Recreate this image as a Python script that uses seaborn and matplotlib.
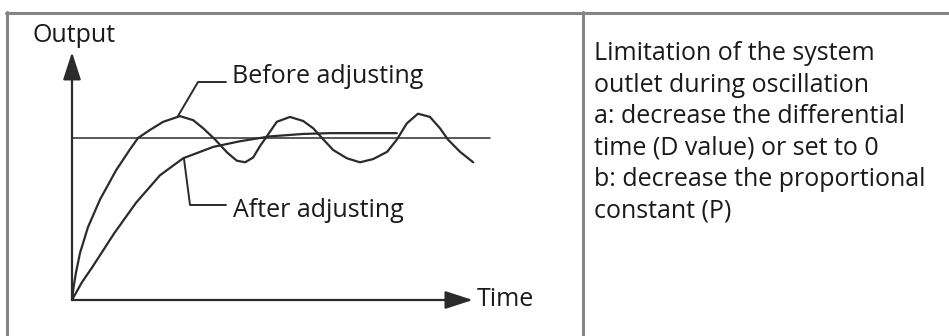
import matplotlib
matplotlib.use("Agg")
import matplotlib.pyplot as plt
import seaborn as sns
import pandas as pd

# step response (time axis 0..10, setpoint = 1)
before_t = [0, 0.04, 0.1, 0.2, 0.4, 0.7, 1.1, 1.45, 1.65, 1.95, 2.28, 2.7, 3.03, 3.28, 3.58,
            3.88, 4.12, 4.33, 4.53, 4.7, 4.87, 5.12, 5.45, 5.78, 6.03, 6.25, 6.53, 6.87,
            7.2, 7.53, 7.88, 8.12, 8.37, 8.65, 8.95, 9.2, 9.4, 9.7, 10.03]
before_out = [0, 0.08, 0.17, 0.29, 0.45, 0.62, 0.8, 0.93, 1.0, 1.05, 1.1, 1.135, 1.11, 1.06, 0.99,
              0.91, 0.86, 0.85, 0.88, 0.95, 1.01, 1.1, 1.13, 1.105, 1.06, 1.0, 0.926, 0.875,
              0.85, 0.87, 0.915, 0.99, 1.09, 1.15, 1.13, 1.06, 0.99, 0.915, 0.85]
after_t = [0, 0.25, 0.5, 1.05, 1.6, 2.2, 2.78, 3.53, 4.2, 4.95, 5.78, 6.45, 8.12]
after_out = [0, 0.11, 0.2, 0.41, 0.6, 0.77, 0.875, 0.945, 0.98, 1.01, 1.025, 1.03, 1.03]
setpoint_t = [0, 10.45]
setpoint_out = [1.0, 1.0]

note_lines = [
    "Limitation of the system",
    "outlet during oscillation",
    "a: decrease the differential",
    "time (D value) or set to 0",
    "b: decrease the proportional",
    "constant (P)",
]

sns.set_theme(style="white")
plt.rcParams["font.family"] = ["Open Sans", "DejaVu Sans"]

W, H = 949, 336
fig = plt.figure(figsize=(W / 100, H / 100), dpi=100)

# data axes: origin of the sketch sits at pixel (72, 300)
ax = fig.add_axes([0, 0, 1, 1])
ax.set_xlim(-72 / 40, (W - 72) / 40)
ax.set_ylim(-(H - 300) / 162, 300 / 162)
ax.axis("off")

ink = "#2b2b2b"
before = pd.DataFrame({"t": before_t, "out": before_out})
after = pd.DataFrame({"t": after_t, "out": after_out})
sns.lineplot(data=before, x="t", y="out", ax=ax, color=ink, lw=1.6, sort=False, estimator=None)
sns.lineplot(data=after, x="t", y="out", ax=ax, color=ink, lw=1.6, sort=False, estimator=None)
sns.lineplot(x=setpoint_t, y=setpoint_out, ax=ax, color=ink, lw=1.1, estimator=None)

arrow = dict(arrowstyle="-|>,head_length=17,head_width=5.5", mutation_scale=1,
             color=ink, lw=1.6, shrinkA=0, shrinkB=0)
ax.annotate("", xy=(10.02, 0), xytext=(0, 0), arrowprops=arrow)
ax.annotate("", xy=(0, 1.53), xytext=(0, 0), arrowprops=arrow)

# pixel overlay for frame, labels and notes
ov = fig.add_axes([0, 0, 1, 1], facecolor="none")
ov.set_xlim(0, W)
ov.set_ylim(H, 0)
ov.axis("off")

frame = "#858585"
ov.plot([6, W], [12.5, 12.5], color=frame, lw=2.2)
ov.plot([7, 7], [12, H], color=frame, lw=2.2)
ov.plot([583, 583], [12, H], color=frame, lw=2.2)

txt = "#1a1a1a"
fs = 18
ov.text(32, 42, "Output", fontsize=fs, color=txt, va="baseline")
ov.text(477, 300, "Time", fontsize=fs, color=txt, va="center")

# leader lines
ov.plot([178, 198, 226], [116, 82, 82], color=ink, lw=1.4)
ov.plot([184, 190, 226], [159, 205, 205], color=ink, lw=1.4)
ov.text(232, 83, "Before adjusting", fontsize=fs, color=txt, va="baseline")
ov.text(233, 217, "After adjusting", fontsize=fs, color=txt, va="baseline")

for i, line in enumerate(note_lines):
    ov.text(594, 60 + i * 31.6, line, fontsize=fs, color=txt, va="baseline")

fig.savefig("out.png", dpi=100)
